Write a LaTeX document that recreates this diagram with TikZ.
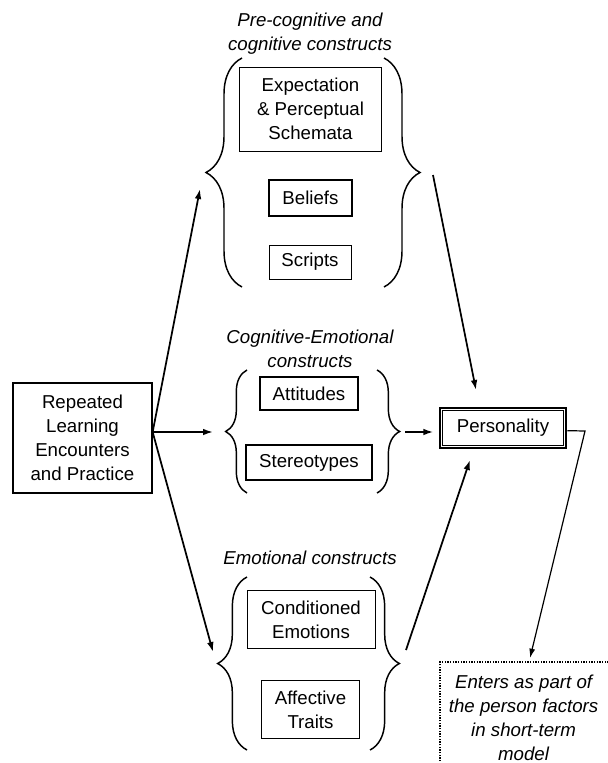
\documentclass[tikz,border=0pt]{standalone}
\usepackage{fontspec}
\setmainfont{Liberation Sans}
\usetikzlibrary{decorations.pathreplacing,arrows.meta}
\begin{document}
\begin{tikzpicture}[x=0.75pt,y=-0.75pt,font=\fontsize{14}{18}\selectfont]
    \tikzstyle{boxes}=[draw,line width=0.7pt,align=center,inner sep=0pt]
    \tikzstyle{tboxes}=[boxes,line width=1.2pt]
    \tikzstyle{heads}=[align=center,font=\fontsize{14}{18}\selectfont\itshape]
    \tikzstyle{braces}=[decorate,line width=1.1pt]
    \tikzstyle{vectors}=[-{Latex[length=7.5pt,width=5pt]},line width=1.3pt]
    \useasboundingbox (0,0) rectangle (607,763);

    % source box
    \node[tboxes,minimum width=104pt,minimum height=82.5pt] (rep) at (82.5,438)
        {Repeated\\Learning\\Encounters\\and Practice};

    % pre-cognitive group
    \node[heads] (prehead) at (310,34) {Pre-cognitive and\\cognitive constructs};
    \node[boxes,minimum width=107pt,minimum height=63pt] (expect) at (310.5,109)
        {Expectation\\\& Perceptual\\Schemata};
    \node[tboxes,minimum width=62pt,minimum height=27pt] (belief) at (310.5,198) {Beliefs};
    \node[boxes,minimum width=61.5pt,minimum height=25.5pt] (script) at (310,262) {Scripts};
    \draw[braces,decoration={brace,amplitude=27pt}] (242,287) -- (242,58);
    \draw[braces,decoration={brace,amplitude=27pt}] (384,58) -- (384,287);

    % cognitive-emotional group
    \node[heads] (coghead) at (310,349) {Cognitive-Emotional\\constructs};
    \node[tboxes,minimum width=73.5pt,minimum height=25pt] (attit) at (309,393.5) {Attitudes};
    \node[tboxes,minimum width=94.5pt,minimum height=26pt] (stereo) at (309,462.5) {Stereotypes};
    \draw[braces,decoration={brace,amplitude=16pt}] (247,493) -- (247,370);
    \draw[braces,decoration={brace,amplitude=17pt}] (377,370) -- (377,493);

    % emotional group
    \node[heads] (emohead) at (310,558) {Emotional constructs};
    \node[boxes,minimum width=96pt,minimum height=44pt] (condit) at (311,619.5)
        {Conditioned\\Emotions};
    \node[boxes,minimum width=73pt,minimum height=44pt] (affect) at (310.5,709.5)
        {Affective\\Traits};
    \draw[braces,decoration={brace,amplitude=22pt}] (247,750) -- (247,577);
    \draw[braces,decoration={brace,amplitude=22pt}] (370,577) -- (370,750);

    % personality
    \node[boxes,line width=2pt,minimum width=94.5pt,minimum height=30pt] (pers) at (503,428)
        {Personality};
    \draw[line width=0.6pt] ([shift={(2.8pt,-2.8pt)}]pers.north west)
        rectangle ([shift={(-2.8pt,2.8pt)}]pers.south east);

    \node[align=center,font=\fontsize{14}{18}\selectfont\itshape,anchor=north west,
        minimum width=125pt,minimum height=84pt,inner sep=0pt] (enters) at (440,662)
        {Enters as part of\\the person factors\\in short-term\\model};
    \draw[densely dotted,line width=1pt] ([yshift=-6pt]enters.south west) -- (enters.north west)
        -- ([xshift=4pt]enters.north east);

    % arrows
    \coordinate (repOut) at ([yshift=4.5pt]rep.east);
    \coordinate (preIn) at (200,189);
    \coordinate (cogIn) at (213,432);
    \coordinate (emoIn) at (213,652);
    \coordinate (preOut) at (433,175);
    \coordinate (preEnd) at (476,390);
    \coordinate (cogOut) at (405,432);
    \coordinate (emoOut) at (406,650);
    \coordinate (emoEnd) at (470,460);
    \coordinate (bend) at (585,431);
    \coordinate (entersIn) at (530,658);

    \draw[vectors] (repOut) -- (preIn);
    \draw[vectors] (repOut) -- (cogIn);
    \draw[vectors] (repOut) -- (emoIn);
    \draw[vectors] (preOut) -- (preEnd);
    \draw[vectors,shorten >=4pt] (cogOut) -- (cogOut -| pers.west);
    \draw[vectors] (emoOut) -- (emoEnd);
    \draw[-{Latex[length=7pt,width=4.5pt]},line width=0.9pt] ([yshift=-2pt]pers.east)
        -- (bend) -- (entersIn);
\end{tikzpicture}
\end{document}
